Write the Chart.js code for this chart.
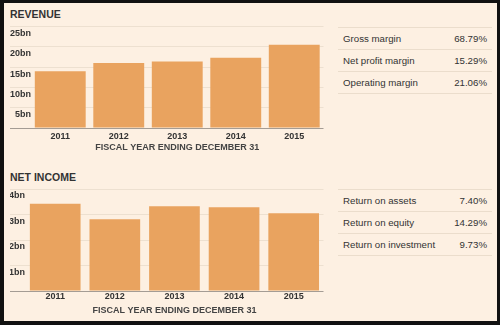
<!DOCTYPE html>
<html>
<head>
<meta charset="utf-8">
<script src="https://cdn.jsdelivr.net/npm/chart.js@4"></script>
<style>
  html, body { margin: 0; padding: 0; background: #111; width: 500px; height: 325px; overflow: hidden; }
  #frame { position: absolute; left: 4px; top: 3px; width: 493px; height: 318px; background: #fdf0e2; }
  .title { position: absolute; left: 10px; font: bold 10.5px 'Liberation Sans', Arial, sans-serif; color: #333; line-height: 12px; }
  canvas { position: absolute; left: 10px; }
  .table { position: absolute; left: 338px; width: 154px; font: 9.7px 'Liberation Sans', Arial, sans-serif; color: #333; }
  .row { display: flex; justify-content: space-between; height: 21px; line-height: 21px; border-top: 1px solid #ebddcc; padding: 0 5px; }
  .row:last-child { border-bottom: 1px solid #ebddcc; }
</style>
</head>
<body>
<div id="frame"></div>
<div class="title" style="top:8px">REVENUE</div>
<div class="title" style="top:171px">NET INCOME</div>
<canvas id="revChart" width="314" height="140" style="top:20px"></canvas>
<canvas id="netChart" width="314" height="139" style="top:182px"></canvas>
<div class="table" id="ratios1" style="top:27px"></div>
<div class="table" id="ratios2" style="top:189px"></div>
<script>
const YEARS = ['2011', '2012', '2013', '2014', '2015'];
const REVENUE = [14.0, 16.0, 16.4, 17.3, 20.5];
const NET_INCOME = [3.42, 2.81, 3.32, 3.28, 3.05];
const REVENUE_MAX = 25, REVENUE_STEP = 5;
const NET_MAX = 4, NET_STEP = 1;
const X_TITLE = 'FISCAL YEAR ENDING DECEMBER 31';

const MARGIN_LABELS = ['Gross margin', 'Net profit margin', 'Operating margin'];
const MARGIN_VALUES = ['68.79%', '15.29%', '21.06%'];
const RETURN_LABELS = ['Return on assets', 'Return on equity', 'Return on investment'];
const RETURN_VALUES = ['7.40%', '14.29%', '9.73%'];

const BAR = '#e9a35f';
const GRID = '#ede0d0';
const BASE = '#a49c94';
const FONT = "'Liberation Sans', Arial, sans-serif";

function fillTable(id, labels, values) {
    const el = document.getElementById(id);
    labels.forEach((l, i) => {
        const row = document.createElement('div');
        row.className = 'row';
        row.innerHTML = `<span>${l}</span><span>${values[i]}</span>`;
        el.appendChild(row);
    });
}
fillTable('ratios1', MARGIN_LABELS, MARGIN_VALUES);
fillTable('ratios2', RETURN_LABELS, RETURN_VALUES);

function makeChart(id, values, max, step, o) {
    return new Chart(document.getElementById(id), {
        type: 'bar',
        data: {
            labels: YEARS,
            datasets: [{ data: values, backgroundColor: BAR, borderWidth: 0,
                         barPercentage: o.barPct, categoryPercentage: 1 }]
        },
        options: {
            responsive: false,
            animation: false,
            layout: { padding: { top: o.top, right: 0.5, bottom: 0, left: 0 } },
            plugins: { legend: { display: false }, tooltip: { enabled: false } },
            scales: {
                x: {
                    grid: { display: false, drawTicks: false },
                    border: { display: false },
                    ticks: { color: '#333', padding: o.tickPad, font: { family: FONT, size: 9, weight: 'bold' } },
                    title: { display: true, text: X_TITLE, color: '#444',
                             padding: { top: 0, bottom: o.titlePad },
                             font: { family: FONT, size: 9, weight: 'bold' } },
                    afterFit: s => { s.height = o.xHeight; }
                },
                y: {
                    min: 0, max: max,
                    border: { display: false },
                    grid: {
                        color: c => c.tick && c.tick.value === 0 ? BASE : GRID,
                        drawTicks: true, tickLength: o.yWidth
                    },
                    ticks: {
                        stepSize: step, color: '#333', labelOffset: 7,
                        padding: o.labelPad,
                        font: { family: FONT, size: 9, weight: 'bold' },
                        callback: v => v === 0 ? '' : v + 'bn'
                    },
                    afterFit: s => { s.width = o.yWidth; }
                }
            }
        }
    });
}

makeChart('revChart', REVENUE, REVENUE_MAX, REVENUE_STEP,
    { top: 6.5, yWidth: 21, labelPad: -21, tickPad: 3, xHeight: 32, titlePad: 6.6, barPct: 0.87 });
makeChart('netChart', NET_INCOME, NET_MAX, NET_STEP,
    { top: 7, yWidth: 15.4, labelPad: -15, tickPad: 0.5, xHeight: 30, titlePad: 4.6, barPct: 0.85 });
</script>
</body>
</html>
